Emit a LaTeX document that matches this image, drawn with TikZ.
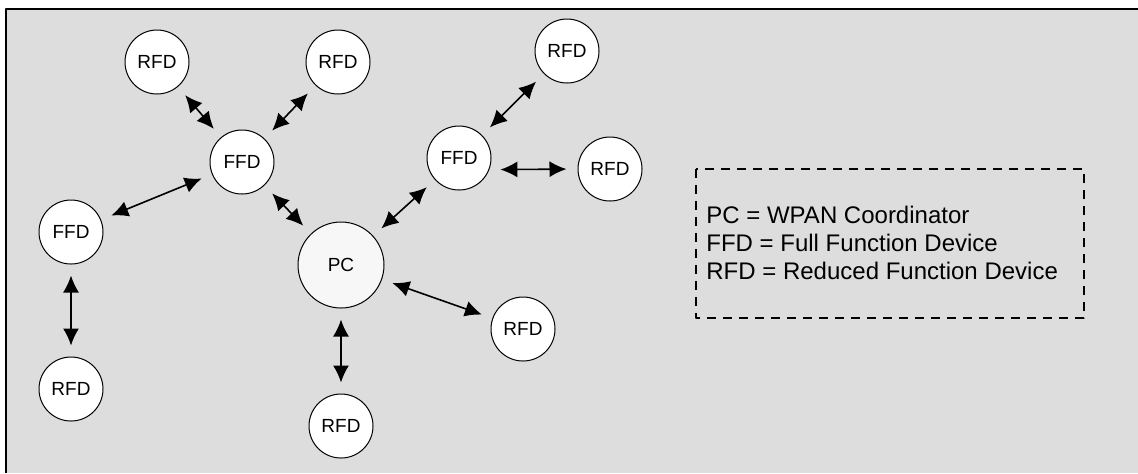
\documentclass[tikz,border=0pt]{standalone}
\usepackage{fontspec}
\setmainfont{Liberation Sans}
\usetikzlibrary{arrows.meta}
\definecolor{bggray}{RGB}{221,221,221}
\definecolor{pcfill}{RGB}{247,247,247}
\begin{document}
\begin{tikzpicture}[x=0.5pt, y=-0.5pt, font=\fontsize{9.5}{11}\selectfont, line join=round, >={Latex[length=8.5pt,width=8pt]},
	dev/.style={circle, draw, line width=0.5pt, fill=white, minimum size=32pt, inner sep=0pt},
	link/.style={<->, line width=0.8pt, shorten >=5.5pt, shorten <=5.5pt}]
	\useasboundingbox (0,0) rectangle (1138,473);
	\fill[bggray] (6,9) rectangle (1138,473);
	\draw[line width=1.3pt] (6,473)--(6,9)--(1138,9);
	\node[dev, fill=pcfill, minimum size=43pt] (pc) at (341,265) {PC};
	\node[dev] (ffdtop) at (242,162) {FFD};
	\node[dev] (ffdleft) at (71,232) {FFD};
	\node[dev] (ffdright) at (459,158) {FFD};
	\node[dev] (rfdA) at (157,62) {RFD};
	\node[dev] (rfdB) at (338,62) {RFD};
	\node[dev] (rfdC) at (567,51) {RFD};
	\node[dev] (rfdD) at (610,169) {RFD};
	\node[dev] (rfdE) at (523,329) {RFD};
	\node[dev] (rfdF) at (341,426) {RFD};
	\node[dev] (rfdG) at (71,389) {RFD};
	\draw[link] (rfdA)--(ffdtop);
	\draw[link] (rfdB)--(ffdtop);
	\draw[link] (ffdtop)--(ffdleft);
	\draw[link] (ffdtop)--(pc);
	\draw[link] (ffdright)--(pc);
	\draw[link] (rfdC)--(ffdright);
	\draw[link] (ffdright.-21)--(rfdD.west);
	\draw[link] (pc)--(rfdE);
	\draw[link] (pc)--(rfdF);
	\draw[link] (ffdleft)--(rfdG);
	\draw[line width=0.7pt, dash pattern=on 4.5pt off 3.5pt] (696,169) rectangle (1084,318);
	\node[anchor=west, align=left, inner sep=0pt, font=\fontsize{12}{14}\selectfont] (key) at (706,243) {PC = WPAN Coordinator\\FFD = Full Function Device\\RFD = Reduced Function Device};
\end{tikzpicture}
\end{document}
